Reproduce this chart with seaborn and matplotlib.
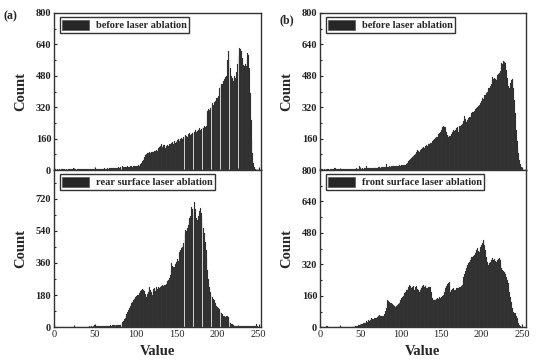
import numpy as np
import matplotlib
matplotlib.use("Agg")
import matplotlib.pyplot as plt
import seaborn as sns
from matplotlib.patches import Patch
from matplotlib.ticker import AutoMinorLocator

values = list(range(256))

before_a = [
    3,2,4,2,3,1,2,3,2,4,
    3,2,3,4,2,3,2,3,4,3,
    3,4,2,3,11,4,3,2,3,4,
    3,4,3,2,4,3,5,4,3,4,
    4,3,5,4,3,4,5,3,4,6,
    19,5,6,4,5,7,6,5,6,7,
    6,7,8,6,7,9,8,7,8,9,
    10,8,9,11,10,9,12,10,11,13,
    12,14,11,13,18,16,14,15,17,16,
    18,15,17,19,16,18,17,20,18,19,
    21,19,22,24,20,26,30,37,44,52,
    60,68,74,80,85,88,86,91,89,94,
    90,96,92,98,95,100,97,105,112,118,
    124,130,120,115,128,125,110,122,118,126,
    120,130,135,128,138,142,135,148,140,150,
    145,152,160,148,155,158,165,160,170,165,
    172,178,175,168,182,180,188,176,185,190,
    185,198,192,204,195,200,210,202,212,206,
    208,215,220,212,224,218,226,290,300,310,
    305,318,322,330,340,332,345,350,358,365,
    368,375,420,430,425,438,440,455,465,458,
    472,478,560,604,612,560,520,480,470,455,
    465,478,470,500,540,580,600,622,615,605,
    570,545,535,528,540,530,560,595,585,520,
    392,255,150,86,35,15,6,2,0,0,
    0,0,0,0,0,0,
]

rear = [
    2,1,3,2,1,2,3,1,2,3,
    2,3,1,2,4,2,3,2,1,3,
    2,3,2,4,3,2,3,4,2,3,
    3,2,4,3,2,3,4,3,2,4,
    3,4,3,5,4,3,5,4,6,15,
    17,8,6,7,5,6,8,7,6,8,
    9,7,8,10,8,9,11,8,10,12,
    10,12,9,11,13,10,12,14,11,13,
    15,13,18,24,28,35,44,52,62,74,
    86,97,108,119,128,134,142,150,158,163,
    170,176,180,182,190,198,205,209,212,208,
    215,205,188,172,185,200,215,228,210,195,
    182,198,212,220,205,228,215,222,228,218,
    228,232,225,236,230,238,237,245,252,260,
    265,275,290,320,358,345,335,339,352,360,
    367,380,370,423,410,430,445,451,470,490,
    520,545,540,554,570,590,610,625,675,660,
    638,665,703,660,610,600,591,620,650,666,
    640,610,582,555,526,480,433,380,321,270,
    228,200,185,175,172,160,150,134,125,118,
    112,107,100,92,85,78,72,66,62,60,
    58,63,64,55,42,32,26,20,16,13,
    12,10,9,8,7,8,6,7,8,6,
    5,6,7,5,6,8,6,5,7,6,
    5,7,6,8,6,5,7,19,6,5,
    0,0,0,0,0,0,
]

before_b = [
    3,2,4,3,2,5,3,2,4,3,
    3,4,2,3,4,3,2,4,10,12,
    4,3,5,3,4,6,4,3,5,4,
    4,5,3,6,4,5,4,6,5,4,
    6,5,7,5,6,8,6,7,5,20,
    8,7,9,8,7,9,10,8,20,9,
    10,9,11,8,12,10,9,11,13,10,
    12,11,13,12,14,12,13,15,14,13,
    15,14,31,16,15,17,18,16,20,18,
    19,20,18,21,19,22,20,21,23,34,
    22,24,23,25,24,26,28,30,35,42,
    46,50,55,59,63,68,72,76,82,90,
    96,102,98,93,100,105,108,110,115,112,
    118,122,127,124,130,136,132,140,138,148,
    153,150,158,162,168,170,175,182,190,196,
    205,212,220,224,218,217,205,192,180,170,
    175,178,172,185,195,204,198,208,205,212,
    218,196,210,222,225,229,235,242,250,275,
    262,246,250,255,265,272,268,280,288,295,
    297,302,310,306,315,320,325,331,328,340,
    352,366,360,372,380,382,390,398,410,416,
    420,428,440,458,476,465,470,462,459,475,
    482,488,493,505,520,544,540,553,548,556,
    545,510,470,430,408,420,445,459,465,468,
    420,357,290,204,150,110,85,50,30,17,
    8,3,0,0,0,0,
]

front = [
    0,0,1,0,1,2,1,3,6,8,
    3,1,2,1,0,1,2,1,1,0,
    1,2,1,0,1,3,1,2,1,2,
    1,2,2,1,3,2,3,2,4,3,
    4,3,5,4,6,7,8,10,12,11,
    14,15,18,17,21,20,24,26,30,28,
    37,33,40,38,46,42,44,48,45,49,
    49,52,55,58,63,60,56,58,51,55,
    68,85,97,120,139,135,130,126,122,125,
    118,112,108,105,110,106,115,119,125,132,
    140,148,155,160,168,173,180,188,192,198,
    205,215,210,200,195,207,212,190,205,210,
    200,195,188,181,192,207,202,210,215,205,
    215,210,200,198,204,196,207,205,180,150,
    139,145,140,139,142,148,150,146,153,150,
    155,156,158,165,180,198,205,210,218,224,
    232,215,181,188,195,198,190,185,192,198,
    198,202,195,205,203,208,215,241,255,270,
    285,300,310,318,325,334,340,350,355,359,
    365,370,376,385,395,402,390,385,400,410,
    419,430,444,438,420,393,360,330,308,318,
    325,334,340,346,351,340,345,338,334,330,
    340,346,351,340,318,300,292,286,280,283,
    270,255,240,224,200,178,156,130,100,80,
    76,73,71,60,45,29,20,12,7,4,
    1,0,0,0,0,0,
]

legend_labels = ["before laser ablation", "rear surface laser ablation",
                 "before laser ablation", "front surface laser ablation"]
panel_tags = ["(a)", "(b)"]
x_ticks = [0, 50, 100, 150, 200, 250]

sns.set_style("ticks")
plt.rcParams["font.family"] = ["Liberation Serif", "DejaVu Serif"]

W, H = 554, 362
fig = plt.figure(figsize=(W / 100, H / 100), dpi=100)

def rect(x0, y0, x1, y1):
    return [x0 / W, 1 - y1 / H, (x1 - x0) / W, (y1 - y0) / H]

ax_tl = fig.add_axes(rect(54, 13, 261, 170))
ax_bl = fig.add_axes(rect(54, 170, 261, 327.3))
ax_tr = fig.add_axes(rect(320, 13, 526, 170))
ax_br = fig.add_axes(rect(320, 170, 526, 327.3))

bar_face = "#262626"
bar_edge = "#5c5c5c"

specs = [
    (ax_tl, before_a, (0, 253), (0, 800), [0, 160, 320, 480, 640, 800], legend_labels[0], True),
    (ax_bl, rear, (0, 253), (0, 880), [0, 180, 360, 540, 720], legend_labels[1], False),
    (ax_tr, before_b, (0, 255), (0, 800), [160, 320, 480, 640, 800], legend_labels[2], True),
    (ax_br, front, (0, 255), (0, 800), [0, 160, 320, 480, 640, 800], legend_labels[3], False),
]

tick_font = dict(family="Liberation Serif", weight="bold", size=7.5)
label_font = dict(family="Liberation Serif", weight="bold", size=10.5)

for ax, counts, xl, yl, yt, lab, is_top in specs:
    sns.histplot(x=values, weights=counts, discrete=True, ax=ax,
                 color=bar_face, edgecolor=bar_edge, linewidth=0.12,
                 alpha=1, legend=False)
    ax.set_xlim(*xl)
    ax.set_ylim(*yl)
    ax.set_yticks(yt)
    ax.set_xticks(x_ticks)
    ax.yaxis.set_minor_locator(AutoMinorLocator(2))
    ax.xaxis.set_minor_locator(AutoMinorLocator(2))
    ax.tick_params(axis="both", which="both", direction="in", length=2.5, width=0.8,
                   colors="#222222", pad=2)
    ax.tick_params(axis="both", which="minor", length=1.5)
    ax.set_yticklabels([str(v) for v in yt], fontdict=tick_font)
    if is_top:
        ax.set_xticklabels([])
        ax.set_xlabel("")
    else:
        ax.set_xticklabels([str(v) for v in x_ticks],
                           fontdict=dict(family="Liberation Serif", size=7.5))
        ax.set_xlabel("Value", fontdict=label_font, labelpad=4)
    ax.set_ylabel("Count", fontdict=label_font)
    ax.yaxis.set_label_coords(-0.13, 0.5)
    for s in ax.spines.values():
        s.set_linewidth(1.0)
        s.set_color("#333333")
        s.set_visible(True)
    handle = Patch(facecolor="#262626", edgecolor="#555555", linewidth=0.5)
    leg = ax.legend(handles=[handle], labels=[lab], loc="upper left",
                    bbox_to_anchor=(0.028, 0.975), borderaxespad=0,
                    frameon=True, fancybox=False, framealpha=1,
                    handlelength=2.6, handleheight=1.1, handletextpad=0.6,
                    borderpad=0.25,
                    prop=dict(family="Liberation Serif", weight="bold", size=7.5))
    leg.get_frame().set_edgecolor("#333333")
    leg.get_frame().set_linewidth(1.0)

fig.text(4 / W, 1 - 16 / H, panel_tags[0], ha="left", va="center",
         fontdict=dict(family="Liberation Serif", weight="bold", size=8.5))
fig.text(279 / W, 1 - 20 / H, panel_tags[1], ha="left", va="center",
         fontdict=dict(family="Liberation Serif", weight="bold", size=8.5))

fig.savefig("out.png", dpi=100)
